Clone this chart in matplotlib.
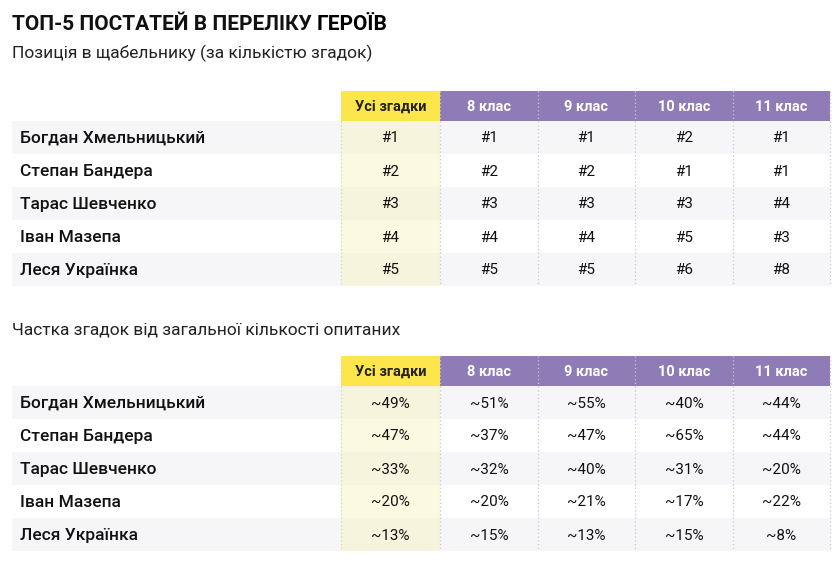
import matplotlib.pyplot as plt
from matplotlib.patches import Rectangle

names = ["Богдан Хмельницький", "Степан Бандера", "Тарас Шевченко", "Іван Мазепа", "Леся Українка"]
columns = ["Усі згадки", "8 клас", "9 клас", "10 клас", "11 клас"]
ranks = [
    [1, 1, 1, 2, 1],
    [2, 2, 2, 1, 1],
    [3, 3, 3, 3, 4],
    [4, 4, 4, 5, 3],
    [5, 5, 5, 6, 8],
]
shares = [
    [49, 51, 55, 40, 44],
    [47, 37, 47, 65, 44],
    [33, 32, 40, 31, 20],
    [20, 20, 21, 17, 22],
    [13, 15, 13, 15, 8],
]

plt.rcParams["font.family"] = "Roboto"
fig = plt.figure(figsize=(8.4, 5.66), dpi=100)
ax = fig.add_axes([0, 0, 1, 1])
ax.set_xlim(0, 840)
ax.set_ylim(566, 0)
ax.axis("off")

col_x = [341, 440, 538, 635, 733, 830]
row_h = 33


def draw_table(top, values, fmt):
    hh = 30
    for j, c in enumerate(columns):
        x0, x1 = col_x[j], col_x[j + 1]
        fc = "#fce64b" if j == 0 else "#8f7cb6"
        ax.add_patch(Rectangle((x0, top), x1 - x0, hh, fc=fc, ec="none"))
        ax.text((x0 + x1) / 2, top + hh / 2 + 1, c, ha="center", va="center", fontsize=10.5,
                fontweight="bold", color="#222222" if j == 0 else "white")
    y = top + hh
    for i, n in enumerate(names):
        gray = i % 2 == 0
        if gray:
            ax.add_patch(Rectangle((12, y), col_x[-1] - 12, row_h, fc="#f6f6f8", ec="none"))
        ax.add_patch(Rectangle((col_x[0], y), col_x[1] - col_x[0], row_h,
                               fc="#f6f4dc" if gray else "#fcf9e1", ec="none"))
        ax.text(20, y + row_h / 2 + 1, n, ha="left", va="center", fontsize=12.5,
                fontweight="medium", color="#111111")
        for j in range(len(columns)):
            ax.text((col_x[j] + col_x[j + 1]) / 2, y + row_h / 2 + 1, fmt(values[i][j]),
                    ha="center", va="center", fontsize=11, color="#111111")
        y += row_h
    for j in range(len(col_x)):
        ax.plot([col_x[j], col_x[j]], [top, y], ls=(0, (1, 2)), lw=0.9,
                color="#c9c3dd" if j else "#d8d4c0")


t1 = ax.text(12, 30, "ТОП-5 ПОСТАТЕЙ В ПЕРЕЛІКУ ", fontsize=15, fontweight="bold", color="#111111", va="baseline")
ax.annotate("ГЕРОЇВ", xy=(1, 0), xycoords=t1, va="bottom", fontsize=15, fontweight="heavy", color="#000000")
ax.text(12, 53, "Позиція в щабельнику (за кількістю згадок)", fontsize=12.5, color="#222222", va="center")
draw_table(91, ranks, lambda v: "#%d" % v)
ax.text(12, 330, "Частка згадок від загальної кількості опитаних", fontsize=12.5, color="#222222", va="center")
draw_table(356, shares, lambda v: "~%d%%" % v)

fig.savefig("out.png", dpi=100)
